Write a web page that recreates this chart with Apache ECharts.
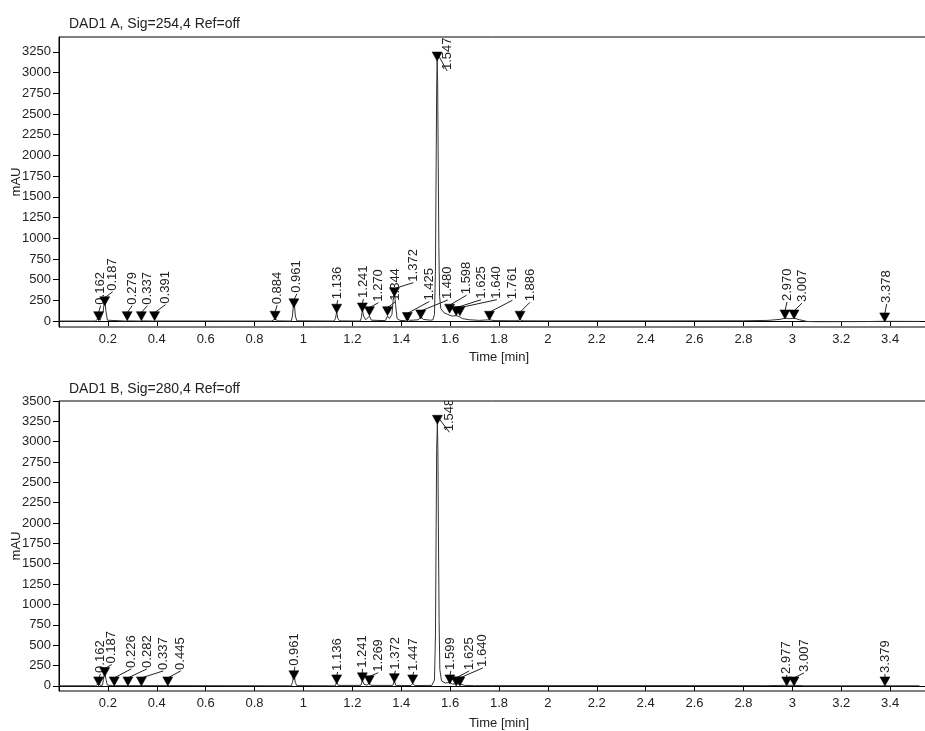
<!DOCTYPE html>
<html>
<head>
<meta charset="utf-8">
<script src="https://cdn.jsdelivr.net/npm/echarts@6/dist/echarts.min.js"></script>
<style>
html,body{margin:0;padding:0;background:#fff;}
#chart{width:925px;height:731px;}
</style>
</head>
<body>
<div id="chart"></div>
<script>
// ---------- DATA ----------
const titleA = 'DAD1 A, Sig=254,4 Ref=off';
const titleB = 'DAD1 B, Sig=280,4 Ref=off';
const xName = 'Time [min]';
const yName = 'mAU';

const xTicks = [0.2,0.4,0.6,0.8,1,1.2,1.4,1.6,1.8,2,2.2,2.4,2.6,2.8,3,3.2,3.4];
const xTickLabels = ['0.2','0.4','0.6','0.8','1','1.2','1.4','1.6','1.8','2','2.2','2.4','2.6','2.8','3','3.2','3.4'];
const yTicksA = [0,250,500,750,1000,1250,1500,1750,2000,2250,2500,2750,3000,3250];
const yTicksB = [0,250,500,750,1000,1250,1500,1750,2000,2250,2500,2750,3000,3250,3500];

// Signal A trace (time [min], mAU)
const traceTimeA = [0.000,0.150,0.156,0.162,0.168,0.176,0.181,0.187,0.192,0.198,0.205,0.272,0.279,0.286,0.330,0.337,0.344,0.384,0.391,0.398,
  0.870,0.884,0.895,0.950,0.955,0.961,0.967,0.973,1.125,1.131,1.136,1.141,1.148,1.232,1.237,1.241,1.246,1.255,1.270,1.278,
  1.335,1.344,1.352,1.362,1.367,1.372,1.377,1.383,1.395,1.415,1.425,1.435,1.470,1.480,1.490,1.520,1.530,1.536,1.540,1.543,
  1.545,1.547,1.549,1.551,1.554,1.557,1.562,1.575,1.590,1.598,1.608,1.625,1.632,1.640,1.650,1.680,1.720,1.761,1.780,1.870,
  1.886,1.900,2.000,2.500,2.800,2.900,2.950,2.970,2.988,3.007,3.030,3.060,3.100,3.300,3.378,3.520];
const traceValA = [0,0,5,40,8,10,120,280,120,10,2,0,20,2,0,18,2,0,15,1,
  0,25,2,0,60,265,60,3,0,30,110,30,2,0,40,140,60,15,60,10,
  5,60,30,80,250,345,200,30,8,5,25,8,15,55,20,10,15,80,600,1900,
  2800,3150,2900,2100,900,300,150,100,80,95,60,65,45,50,30,15,8,15,5,3,
  15,3,2,2,3,8,20,35,28,35,15,-5,-8,-6,-3,-5];

// Signal B trace
const traceTimeB = [0.000,0.150,0.156,0.162,0.168,0.178,0.182,0.187,0.192,0.198,0.205,0.220,0.226,0.232,0.276,0.282,0.288,0.331,0.337,0.343,
  0.440,0.445,0.452,0.950,0.955,0.961,0.967,0.973,1.130,1.136,1.142,1.235,1.241,1.247,1.260,1.269,1.276,1.366,1.372,1.378,
  1.440,1.447,1.455,1.525,1.536,1.540,1.543,1.545,1.548,1.550,1.552,1.555,1.558,1.565,1.580,1.599,1.610,1.625,1.640,1.660,
  1.700,2.900,2.977,3.007,3.050,3.379,3.520];
const traceValB = [0,0,5,30,5,8,80,170,80,8,2,2,12,2,2,12,2,2,12,2,
  2,10,2,0,40,150,40,2,0,45,5,5,70,20,8,30,5,5,60,5,
  3,30,3,5,70,600,1950,2900,3230,2900,2000,800,200,60,35,40,20,25,20,5,
  2,2,6,6,0,0,0];

// Integrated peaks: retention time, marker height (mAU), label
const peakTimeA = [0.162,0.187,0.279,0.337,0.391,0.884,0.961,1.136,1.241,1.270,1.344,1.372,1.425,1.480,1.547,1.598,1.625,1.640,1.761,1.886,2.970,3.007,3.378];
const peakHeightA = [65,245,65,65,65,70,220,155,170,125,125,355,55,85,3200,155,125,125,70,70,85,85,50];
const peakLabelA = ['0.162','0.187','0.279','0.337','0.391','0.884','0.961','1.136','1.241','1.270','1.344','1.372','1.425','1.480','1.547','1.598','1.625','1.640','1.761','1.886','2.970','3.007','3.378'];

const peakTimeB = [0.162,0.187,0.226,0.282,0.337,0.445,0.961,1.136,1.241,1.269,1.372,1.447,1.548,1.599,1.625,1.640,2.977,3.007,3.379];
const peakHeightB = [60,175,60,60,60,60,135,85,110,75,100,85,3275,85,60,60,60,60,60];
const peakLabelB = ['0.162','0.187','0.226','0.282','0.337','0.445','0.961','1.136','1.241','1.269','1.372','1.447','1.548','1.599','1.625','1.640','2.977','3.007','3.379'];

// ---------- LAYOUT (label offsets in px from marker, styling only) ----------
const labelShiftA = [[2,-10],[8,-9],[5,-10],[6,-10],[11,-11],[2,-10],[3,-9],[1,-8],[1,-8],[9,-8],[8,-9],[19,-9],[22,-15],[27,-14],[10,15],[17,-13],[25,-11],[37,-11],[23,-15],[10,-13],[2,-12],[8,-11],[2,-13]];
const labelShiftB = [[2,-7],[7,-7],[17,-12],[19,-12],[22,-10],[13,-10],[1,-8],[1,-7],[0,-8],[9,-7],[1,-7],[1,-7],[12,13],[1,-8],[13,-10],[23,-13],[0,-6],[10,-8],[0,-7]];

const FONT = '"Liberation Sans", Arial, sans-serif';
const INK = '#222';

function zip(a, b) { return a.map((v, i) => [v, b[i]]); }
function xLabel(v) {
  let best = 0;
  for (let i = 1; i < xTicks.length; i++) if (Math.abs(xTicks[i] - v) < Math.abs(xTicks[best] - v)) best = i;
  return xTickLabels[best];
}

function makeX(gi, gap) {
  return {
    type: 'value', gridIndex: gi, min: 0, max: 3.551,
    name: xName, nameLocation: 'middle', nameGap: gap, nameMoveOverlap: false,
    nameTextStyle: { fontFamily: FONT, fontSize: 13, color: INK, padding: [0, 0, 0, 12] },
    axisLine: { show: true, lineStyle: { color: '#000', width: 1 } },
    axisTick: { show: true, length: 5, inside: false, lineStyle: { color: '#000' }, customValues: xTicks },
    axisLabel: { show: true, margin: 6, fontFamily: FONT, fontSize: 13, color: INK, customValues: xTicks, formatter: xLabel },
    splitLine: { show: false }
  };
}
function makeY(gi, min, max, ticks) {
  return {
    type: 'value', gridIndex: gi, min: min, max: max,
    name: yName, nameLocation: 'middle', nameRotate: 90, nameGap: 36, nameMoveOverlap: false,
    nameTextStyle: { fontFamily: FONT, fontSize: 13, color: INK },
    axisLine: { show: true, lineStyle: { color: '#000', width: 1 } },
    axisTick: { show: true, length: 6, lineStyle: { color: '#000' }, customValues: ticks },
    axisLabel: { show: true, margin: 8, fontFamily: FONT, fontSize: 13, color: INK, customValues: ticks,
      formatter: function (v) { return String(Math.round(v)); } },
    splitLine: { show: false }
  };
}

function peakLabels(times, heights, labels, shifts, gi) {
  return {
    type: 'custom', xAxisIndex: gi, yAxisIndex: gi, z: 2, clip: true,
    data: zip(times, heights),
    encode: { x: 0, y: 1 },
    renderItem: function (params, api) {
      const i = params.dataIndex;
      const p = api.coord([api.value(0), api.value(1)]);
      const s = shifts[i];
      const lx = p[0] + s[0], ly = p[1] + s[1];
      return {
        type: 'group',
        children: [
          { type: 'line', shape: { x1: p[0], y1: p[1] - 3, x2: lx, y2: ly }, style: { stroke: INK, lineWidth: 1 } },
          { type: 'text', x: lx, y: ly - 1, rotation: Math.PI / 2,
            style: { text: labels[i], x: 0, y: 0, align: 'left', verticalAlign: 'middle', font: '13px ' + FONT, fill: INK } }
        ]
      };
    }
  };
}
function peakMarks(times, heights, gi) {
  return {
    type: 'custom', xAxisIndex: gi, yAxisIndex: gi, z: 5, clip: true,
    data: zip(times, heights),
    encode: { x: 0, y: 1 },
    renderItem: function (params, api) {
      const p = api.coord([api.value(0), api.value(1)]);
      return {
        type: 'polygon',
        shape: { points: [[p[0] - 5, p[1] - 4], [p[0] + 5, p[1] - 4], [p[0], p[1] + 5]] },
        style: { fill: '#000', stroke: '#000', lineWidth: 0.5 }
      };
    }
  };
}
function trace(times, vals, gi) {
  return {
    type: 'line', xAxisIndex: gi, yAxisIndex: gi, z: 3,
    data: zip(times, vals), showSymbol: false, symbol: 'none',
    lineStyle: { color: '#333', width: 1 }, animation: false
  };
}

const chart = echarts.init(document.getElementById('chart'), null, { renderer: 'canvas' });
chart.setOption({
  animation: false,
  backgroundColor: '#fff',
  title: [
    { text: titleA, left: 64, top: 12, textStyle: { fontFamily: FONT, fontSize: 14, fontWeight: 'normal', color: INK } },
    { text: titleB, left: 64, top: 377, textStyle: { fontFamily: FONT, fontSize: 14, fontWeight: 'normal', color: INK } }
  ],
  grid: [
    { left: 59, right: -2, top: 37, height: 290, outerBoundsMode: 'none', containLabel: false, show: true, borderColor: '#000', borderWidth: 1, backgroundColor: 'transparent' },
    { left: 59, right: -2, top: 401, height: 290, outerBoundsMode: 'none', containLabel: false, show: true, borderColor: '#000', borderWidth: 1, backgroundColor: 'transparent' }
  ],
  xAxis: [makeX(0, 24), makeX(1, 26)],
  yAxis: [makeY(0, -72, 3430, yTicksA), makeY(1, -64, 3500, yTicksB)],
  series: [
    peakLabels(peakTimeA, peakHeightA, peakLabelA, labelShiftA, 0),
    trace(traceTimeA, traceValA, 0),
    peakMarks(peakTimeA, peakHeightA, 0),
    peakLabels(peakTimeB, peakHeightB, peakLabelB, labelShiftB, 1),
    trace(traceTimeB, traceValB, 1),
    peakMarks(peakTimeB, peakHeightB, 1)
  ]
});
</script>
</body>
</html>
